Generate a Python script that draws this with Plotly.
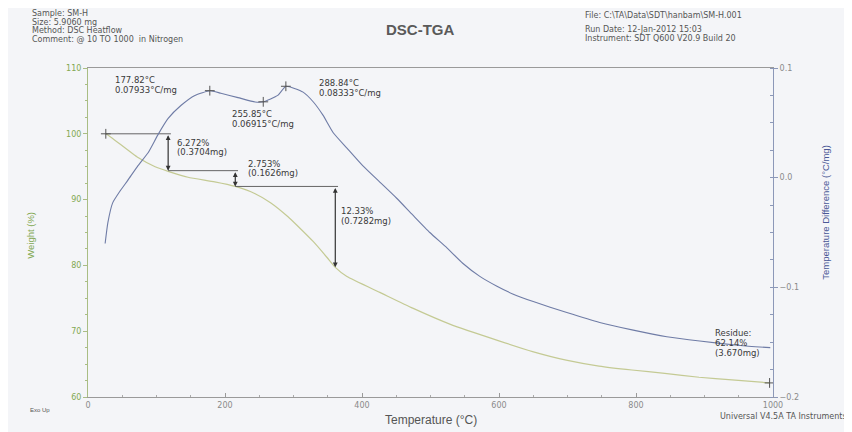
import plotly.graph_objects as go

# ---------------- data ----------------
tga_temp = [26, 36, 73, 98, 117, 146, 185, 215, 244, 267, 292, 305, 329, 349, 361,
            378, 426, 474, 530, 601, 649, 698, 746, 794, 842, 892, 940, 995]
tga_weight = [100.0, 99.3, 96.4, 95.0, 94.3, 93.4, 92.7, 92.0, 90.9, 89.5, 87.4, 86.1,
              83.6, 81.2, 79.7, 78.3, 75.9, 73.5, 71.0, 68.5, 66.9, 65.6, 64.7, 64.1,
              63.6, 63.0, 62.6, 62.14]

dsc_temp = [25, 29, 36, 47, 58, 73, 88, 102, 117, 136, 156, 178, 194, 219, 244, 256,
            277, 289, 314, 329, 343, 358, 378, 401, 426, 451, 474, 499, 524, 547, 572,
            597, 620, 650, 699, 747, 796, 845, 893, 952, 996]
dsc_diff = [-0.060, -0.041, -0.023, -0.012, -0.0025, 0.011, 0.023, 0.039, 0.054, 0.066,
            0.075, 0.0793, 0.077, 0.073, 0.069, 0.0692, 0.075, 0.0833, 0.078, 0.069,
            0.057, 0.041, 0.027, 0.011, -0.004, -0.019, -0.034, -0.050, -0.064, -0.078,
            -0.090, -0.099, -0.106, -0.113, -0.123, -0.132, -0.139, -0.145, -0.149,
            -0.153, -0.155]

peak_temp = [177.82, 255.85, 288.84]
peak_diff = [0.07933, 0.06915, 0.08333]
peak_labels = [["177.82°C", "0.07933°C/mg"], ["255.85°C", "0.06915°C/mg"],
               ["288.84°C", "0.08333°C/mg"]]
peak_label_pos = [(36, 0.0955), (207, 0.0640), (334, 0.0925)]

step_temp = [26, 117, 215, 361]
step_level = [100.0, 94.4, 92.0, 79.7]
step_labels = [["6.272%", "(0.3704mg)"], ["2.753%", "(0.1626mg)"], ["12.33%", "(0.7282mg)"]]
step_label_pos = [(127, 99.7), (230, 96.5), (366, 89.3)]

residue_temp = 995
residue_weight = 62.14
residue_label = ["Residue:", "62.14%", "(3.670mg)"]
residue_label_pos = (912, 70.8)

x_ticks = [0, 200, 400, 600, 800, 1000]
left_ticks = [60, 70, 80, 90, 100, 110]
right_ticks = [-0.2, -0.1, 0.0, 0.1]

header_left = ["Sample: SM-H", "Size: 5.9060 mg", "Method: DSC Heatflow",
               "Comment: @ 10 TO 1000  in Nitrogen"]
header_right = ["File: C:\\TA\\Data\\SDT\\hanbam\\SM-H.001",
                "Run Date: 12-Jan-2012 15:03", "Instrument: SDT Q600 V20.9 Build 20"]

# ---------------- style ----------------
FONT = "DejaVu Sans, Liberation Sans, Arial, sans-serif"
FONT2 = "Liberation Sans, Arial, sans-serif"
BG = "#f4f5f8"
GREEN_AX = "#a9bd84"
GREEN_TXT = "#82a852"
TGA_COL = "#c4ca94"
DSC_COL = "#6f7ca6"
BLUE_AX = "#8c98b8"
BLUE_TXT = "#4a5896"
INK = "#3a3a3a"
GREY = "#8a8a8a"
HDR = "#555555"

PLOT_TOP, PLOT_BOTTOM = 68, 397


def py(pix):
    """page-pixel y -> paper y"""
    return (PLOT_BOTTOM - pix) / (PLOT_BOTTOM - PLOT_TOP)


annotations = []


def add_lines(x, y, xref, yref, lines, size, spacing, color=INK, family=FONT):
    for k, line in enumerate(lines):
        annotations.append(dict(x=x, y=y, xref=xref, yref=yref, text=line, showarrow=False,
                                xanchor="left", yanchor="top", align="left",
                                yshift=-k * spacing, font=dict(family=family, size=size, color=color)))


fig = go.Figure()

fig.add_trace(go.Scatter(x=tga_temp, y=tga_weight, mode="lines",
                         line=dict(color=TGA_COL, width=1.2, shape="spline", smoothing=0.5),
                         yaxis="y", hoverinfo="skip"))
fig.add_trace(go.Scatter(x=dsc_temp, y=dsc_diff, mode="lines",
                         line=dict(color=DSC_COL, width=1.1, shape="spline", smoothing=0.5),
                         yaxis="y2", hoverinfo="skip"))

# horizontal step lines
for i in range(len(step_temp) - 1):
    fig.add_trace(go.Scatter(x=[step_temp[i], step_temp[i + 1] + 4],
                             y=[step_level[i], step_level[i]], mode="lines",
                             line=dict(color="#555555", width=0.9), yaxis="y", hoverinfo="skip"))
# cross markers
fig.add_trace(go.Scatter(x=[step_temp[0], residue_temp], y=[step_level[0], residue_weight],
                         mode="markers", marker=dict(symbol="cross-thin", size=7,
                         line=dict(color="#555555", width=1)), yaxis="y", hoverinfo="skip"))
fig.add_trace(go.Scatter(x=peak_temp, y=peak_diff, mode="markers",
                         marker=dict(symbol="cross-thin", size=7, line=dict(color="#555555", width=1)),
                         yaxis="y2", hoverinfo="skip"))

# vertical double arrows
for i in range(1, len(step_temp)):
    annotations.append(dict(x=step_temp[i], y=step_level[i], ax=step_temp[i], ay=step_level[i - 1],
                            xref="x", yref="y", axref="x", ayref="y", text="", showarrow=True,
                            arrowhead=2, arrowsize=0.8, arrowwidth=1.2, arrowside="end+start",
                            arrowcolor="#333333", startarrowhead=2, startarrowsize=0.8))
for (px, pyv), t in zip(peak_label_pos, peak_labels):
    add_lines(px, pyv, "x", "y2", t, 8.5, 10)
for (px, pyv), t in zip(step_label_pos, step_labels):
    add_lines(px, pyv, "x", "y", t, 8.5, 9.5)
add_lines(residue_label_pos[0], residue_label_pos[1], "x", "y", residue_label, 8.5, 10)

# header
add_lines(-0.085, py(7), "paper", "paper", header_left, 8, 8.6, color=HDR)
annotations.append(dict(x=0.722, y=py(9), xref="paper", yref="paper", text=header_right[0],
                        showarrow=False, xanchor="left", yanchor="top",
                        font=dict(family=FONT, size=8, color=HDR)))
add_lines(0.722, py(23), "paper", "paper", header_right[1:], 8, 8.6, color=HDR)
annotations.append(dict(x=0.485, y=py(30), xref="paper", yref="paper", text="<b>DSC-TGA</b>",
                        showarrow=False, xanchor="center", yanchor="middle",
                        font=dict(family=FONT2, size=15, color="#5a5a5a")))
# footer
annotations.append(dict(x=0.5, y=py(420), xref="paper", yref="paper", text="Temperature (°C)",
                        showarrow=False, xanchor="center", yanchor="middle",
                        font=dict(family=FONT2, size=12, color=HDR)))
annotations.append(dict(x=-0.088, y=py(410), xref="paper", yref="paper", text="Exo Up",
                        showarrow=False, xanchor="left", yanchor="middle",
                        font=dict(family=FONT2, size=6, color=HDR)))
annotations.append(dict(x=(849 - 88) / 685, y=py(416), xref="paper", yref="paper",
                        text="Universal V4.5A TA Instruments",
                        showarrow=False, xanchor="right", yanchor="middle",
                        font=dict(family=FONT, size=8, color=HDR)))
# axis titles
annotations.append(dict(x=-0.085, y=py(235), xref="paper", yref="paper", text="Weight (%)",
                        showarrow=False, textangle=-90, xanchor="center", yanchor="middle",
                        font=dict(family=FONT2, size=9.5, color=GREEN_TXT)))
annotations.append(dict(x=1.077, y=py(212), xref="paper", yref="paper",
                        text="Temperature Difference (°C/mg)",
                        showarrow=False, textangle=-90, xanchor="center", yanchor="middle",
                        font=dict(family=FONT2, size=9.5, color=BLUE_TXT)))

fig.update_layout(
    width=844, height=424,
    margin=dict(l=80, r=79, t=60, b=35),
    paper_bgcolor=BG, plot_bgcolor=BG,
    showlegend=False,
    font=dict(family=FONT, size=8, color=GREY),
    annotations=annotations,
    xaxis=dict(range=[0, 1000], tickvals=x_ticks, showgrid=False, zeroline=False,
               showline=True, linecolor="#9a9a9a", linewidth=1, mirror=True,
               ticks="inside", ticklen=4, tickcolor="#9a9a9a",
               minor=dict(dtick=50, ticks="inside", ticklen=2, tickcolor="#aaaaaa"),
               tickfont=dict(size=8, color=GREY)),
    yaxis=dict(range=[60, 110], tickvals=left_ticks, showgrid=False, zeroline=False,
               showline=True, linecolor=GREEN_AX, linewidth=1,
               ticks="outside", ticklen=4, tickcolor=GREEN_AX,
               minor=dict(dtick=2.5, ticks="outside", ticklen=2, tickcolor=GREEN_AX),
               tickfont=dict(size=8, color=GREEN_TXT)),
    yaxis2=dict(range=[-0.2, 0.1], tickvals=right_ticks, tickformat=".1f", overlaying="y",
                side="right", showgrid=False, zeroline=False,
                showline=True, linecolor=BLUE_AX, linewidth=1,
                ticks="outside", ticklen=4, tickcolor=BLUE_AX,
                minor=dict(dtick=0.025, ticks="inside", ticklen=3, tickcolor=BLUE_AX),
                tickfont=dict(size=8, color=GREY)),
)

fig.write_html("out.html")
